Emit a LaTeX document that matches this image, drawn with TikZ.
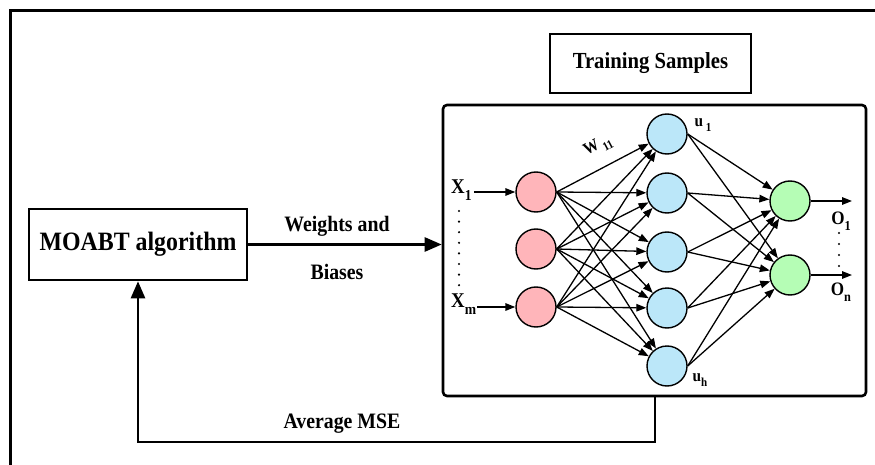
\documentclass[tikz,border=0pt]{standalone}
\usepackage{fontspec}
\usepackage{graphicx}
\setmainfont{Liberation Serif}[FakeStretch=0.9]
\usetikzlibrary{arrows.meta}
\definecolor{inpink}{HTML}{FFB5BA}
\definecolor{hidblue}{HTML}{BBE7F9}
\definecolor{outgreen}{HTML}{B5FDB5}
\newcommand{\lowsub}[1]{\raisebox{-0.3em}{\scalebox{0.72}{#1}}}
\tikzset{
  box/.style={draw, line width=2.6pt, inner sep=0pt},
  neuron/.style={circle, draw, line width=1.4pt, minimum size=40pt, inner sep=0pt},
  conn/.style={line width=1.3pt, -{Triangle[length=10pt,width=7.5pt]}},
  bigarrow/.style={line width=2.6pt, -{Triangle[length=17pt,width=14pt]}},
  lbl/.style={font=\bfseries\fontsize{22}{26}\selectfont, inner sep=0pt},
  small/.style={font=\bfseries\fontsize{17}{20}\selectfont, inner sep=0pt},
  xl/.style={font=\bfseries\fontsize{21}{24}\selectfont, inner sep=0pt}
}
\begin{document}
\begin{tikzpicture}[x=1pt,y=-1pt]
\useasboundingbox (0,0) rectangle (875,465);
% outer frame (cropped)
\draw[line width=3pt] (10,465) -- (10,11) -- (876,11);
% boxes
\node[box, minimum width=201pt, minimum height=59pt, font=\bfseries\fontsize{23}{26}\selectfont] (ts) at (650.5,63.5) {Training Samples};
\node[box, minimum width=218pt, minimum height=71pt, font=\bfseries\fontsize{26.5}{30}\selectfont] (moabt) at (138,244.5) {MOABT algorithm};
\node[draw, line width=2.6pt, rounded corners=4pt, minimum width=423pt, minimum height=291pt] (net) at (654.5,250.5) {};
% neurons
\node[neuron, fill=inpink] (i1) at (536,192) {};
\node[neuron, fill=inpink] (i2) at (536,249) {};
\node[neuron, fill=inpink] (i3) at (536,307) {};
\node[neuron, fill=hidblue] (h1) at (667,134) {};
\node[neuron, fill=hidblue] (h2) at (667,193) {};
\node[neuron, fill=hidblue] (h3) at (667,252) {};
\node[neuron, fill=hidblue] (h4) at (667,308) {};
\node[neuron, fill=hidblue] (h5) at (667,366) {};
\node[neuron, fill=outgreen] (o1) at (790,201) {};
\node[neuron, fill=outgreen] (o2) at (790,275) {};
% connections
\foreach \i in {1,2,3}{
  \foreach \h in {1,...,5}{
    \draw[conn] (i\i.east) -- (h\h);
  }
}
\foreach \h in {1,...,5}{
  \foreach \o in {1,2}{
    \draw[conn] (h\h.east) -- (o\o);
  }
}
% input labels
\node[xl, anchor=west] (x1) at (451,190) {X\lowsub{1}};
\node[xl, anchor=west] (xm) at (451,304) {X\lowsub{m}};
\draw[conn, line width=1.6pt] (x1.east |- i1) ++(2pt,0) -- (i1);
\draw[conn, line width=1.6pt] (xm.east |- i3) ++(1pt,0) -- (i3);
\foreach \k in {0,...,7}{ \fill (459,{211+10.6*\k}) circle (1.2pt); }
% output arrows and labels
\coordinate (e1) at (852,201);
\coordinate (e2) at (852,275);
\draw[conn, line width=1.6pt] (o1.east) -- (e1);
\draw[conn, line width=1.6pt] (o2.east) -- (e2);
\node[small, font=\bfseries\fontsize{19}{22}\selectfont] (lo1) at (841,221) {O\lowsub{1}};
\node[small, font=\bfseries\fontsize{19}{22}\selectfont] (lon) at (841,292) {O\lowsub{n}};
\foreach \k in {0,...,3}{ \fill (839,{233+11*\k}) circle (1.1pt); }
% hidden labels
\node[small] (lu1) at (703,125) {u\,\lowsub{1}};
\node[small] (luh) at (700,380) {u\lowsub{h}};
\node[small, rotate=28] (lw) at (598,146) {W\hspace{3pt}\lowsub{11}};
% main arrows
\draw[bigarrow] (moabt.east) -- (net.west |- moabt.east);
\node[lbl] (lw1) at (337,226) {Weights and};
\node[lbl] (lb1) at (337,272) {Biases};
\coordinate (c1) at (655,442);
\draw[bigarrow] (net.south -| c1) -- (c1) -- (moabt.south |- c1) -- (moabt.south);
\node[lbl] (lmse) at (342,424) {Average MSE};
\end{tikzpicture}
\end{document}
